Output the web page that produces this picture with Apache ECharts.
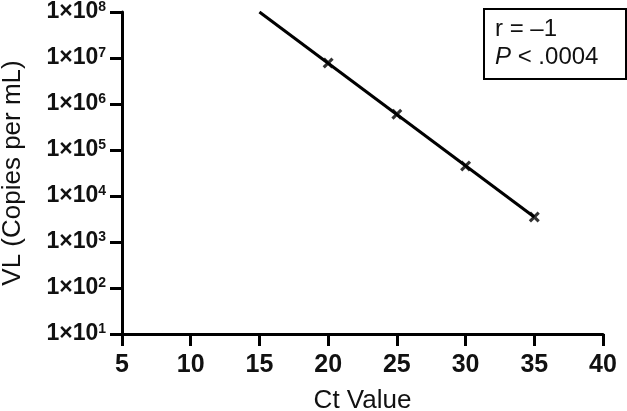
<!DOCTYPE html>
<html lang="en">
<head>
    <meta charset="UTF-8">
    <title>VL vs Ct</title>
    <script src="https://cdn.jsdelivr.net/npm/echarts@6/dist/echarts.min.js"></script>
    <style>
        html, body { margin: 0; padding: 0; background: #fff; }
        #container { width: 627px; height: 411px; }
    </style>
</head>
<body>
    <div id="container"></div>
</body>
<script>
    // measured points (Ct, copies per mL)
    var ctValues = [20, 25, 30, 35];
    var vlValues = [7.8e6, 6.0e5, 4.5e4, 3.5e3];
    // regression line end points
    var fitCt = [15, 35];
    var fitVl = [1.0e8, 3.5e3];
    var statLines = ['r = \u20131', '.0004'];

    var font = '"Liberation Sans", Arial, Helvetica, sans-serif';
    var chart = echarts.init(document.getElementById('container'));

    var points = ctValues.map(function (c, i) { return [c, vlValues[i]]; });
    var fit = fitCt.map(function (c, i) { return [c, fitVl[i]]; });

    var option = {
        animation: false,
        grid: { left: 122, right: 24, top: 12, bottom: 77, containLabel: false, outerBoundsMode: 'none' },
        xAxis: {
            type: 'value',
            min: 5, max: 40, interval: 5,
            name: 'Ct Value',
            nameLocation: 'middle',
            nameGap: 54,
            nameTextStyle: { fontFamily: font, fontSize: 26, color: '#111' },
            axisLine: { lineStyle: { color: '#000', width: 3 } },
            axisTick: { length: 12, lineStyle: { color: '#000', width: 3 } },
            axisLabel: { fontFamily: font, fontSize: 25, fontWeight: 'bold', color: '#111', margin: 19 },
            splitLine: { show: false }
        },
        yAxis: {
            type: 'log',
            logBase: 10,
            min: 10, max: 1e8,
            name: 'VL (Copies per mL)',
            nameLocation: 'middle',
            nameGap: 96,
            nameTextStyle: { fontFamily: font, fontSize: 26, color: '#111' },
            axisLine: { show: true, lineStyle: { color: '#000', width: 3 } },
            axisTick: { show: true, length: 12, lineStyle: { color: '#000', width: 3 } },
            axisLabel: {
                margin: 16,
                formatter: function (v) {
                    return '{b|1\u00d710}{s|' + Math.round(Math.log10(v)) + '}';
                },
                rich: {
                    b: { fontFamily: font, fontSize: 23, fontWeight: 'bold', color: '#111' },
                    s: { fontFamily: font, fontSize: 14, fontWeight: 'bold', color: '#111', verticalAlign: 'top', padding: [0, 0, 10, 0] }
                }
            },
            splitLine: { show: false }
        },
        series: [
            {
                type: 'line',
                data: fit,
                showSymbol: false,
                lineStyle: { color: '#000', width: 3 },
                z: 2
            },
            {
                type: 'scatter',
                data: points,
                symbol: 'path://M0,2L2,0L5,3L8,0L10,2L7,5L10,8L8,10L5,7L2,10L0,8L3,5Z',
                symbolSize: 11,
                itemStyle: { color: '#000' },
                z: 3
            }
        ],
        graphic: [
            {
                type: 'rect',
                left: 483, top: 8,
                shape: { width: 142, height: 70 },
                style: { fill: '#fff', stroke: '#000', lineWidth: 2 }
            },
            {
                type: 'text',
                left: 495, top: 17,
                style: { text: statLines[0], font: '24px ' + font, fill: '#111' }
            },
            {
                type: 'text',
                left: 495, top: 45,
                style: {
                    text: '{i|P} < ' + statLines[1],
                    font: '24px ' + font,
                    fill: '#111',
                    rich: { i: { fontStyle: 'italic', fontFamily: font, fontSize: 24, fill: '#111' } }
                }
            }
        ]
    };

    chart.setOption(option);
</script>
</html>
